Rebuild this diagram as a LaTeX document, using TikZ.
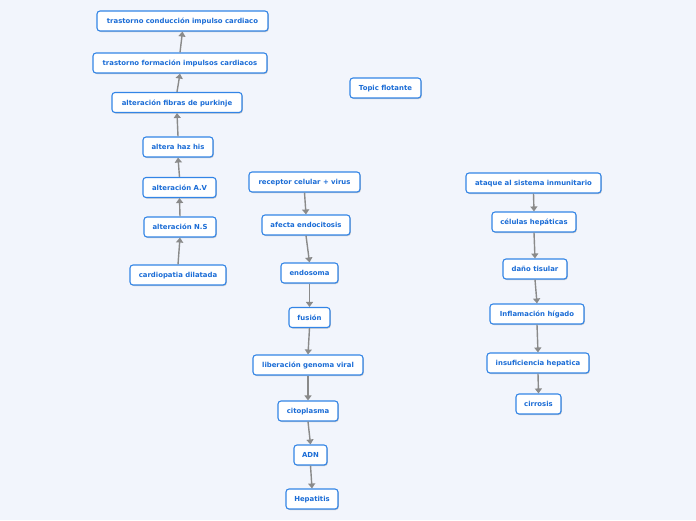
\documentclass[tikz,border=0pt]{standalone}
\usepackage{fontspec}
\setmainfont{DejaVu Sans}
\usetikzlibrary{arrows.meta,shadows}
\definecolor{bg}{HTML}{F2F5FC}
\definecolor{bord}{HTML}{3385E6}
\definecolor{txt}{HTML}{1A6CD6}
\definecolor{arr}{HTML}{8A8A8A}
\tikzset{
  topicbox/.style={draw=bord, line width=1.1pt, fill=white, rounded corners=3pt,
    minimum height=20pt, inner sep=2pt, text=txt, text height=5.6pt, text depth=0.4pt,
    font=\fontsize{6.9}{8}\selectfont\bfseries,
    drop shadow={shadow xshift=0.8pt, shadow yshift=-1pt, opacity=0.35, fill=black!60}},
  link/.style={draw=arr, line width=1.4pt, -{Triangle[width=7pt,length=5pt]}}
}
\begin{document}
\begin{tikzpicture}[x=1pt,y=-1pt]
\useasboundingbox (0,0) rectangle (696,520);
\fill[bg] (0,0) rectangle (696,520);
% left column
\node[topicbox, minimum width=171pt] (l1) at (182.5,21) {trastorno conducción impulso cardiaco};
\node[topicbox, minimum width=174pt] (l2) at (180,63) {trastorno formación impulsos cardiacos};
\node[topicbox, minimum width=130pt] (l3) at (177,102.5) {alteración fibras de purkinje};
\node[topicbox, minimum width=70pt] (l4) at (178,147) {altera haz his};
\node[topicbox, minimum width=73pt] (l5) at (179.5,187.5) {alteración A.V};
\node[topicbox, minimum width=72pt] (l6) at (180,227) {alteración N.S};
\node[topicbox, minimum width=96pt] (l7) at (178,275) {cardiopatia dilatada};
% middle column
\node[topicbox, minimum width=111pt] (m1) at (304.5,182) {receptor celular + virus};
\node[topicbox, minimum width=88pt] (m2) at (306,225) {afecta endocitosis};
\node[topicbox, minimum width=57pt] (m3) at (309.5,273) {endosoma};
\node[topicbox, minimum width=41pt] (m4) at (309.5,317.5) {fusión};
\node[topicbox, minimum width=110pt] (m5) at (308,365) {liberación genoma viral};
\node[topicbox, minimum width=60pt] (m6) at (308,411) {citoplasma};
\node[topicbox, minimum width=33pt] (m7) at (310.5,455) {ADN};
\node[topicbox, minimum width=52pt] (m8) at (312,499) {Hepatitis};
% floating
\node[topicbox, minimum width=71pt] (ft) at (385.5,88) {Topic flotante};
% right column
\node[topicbox, minimum width=135pt] (r1) at (533.5,183) {ataque al sistema inmunitario};
\node[topicbox, minimum width=84pt] (r2) at (534,222) {células hepáticas};
\node[topicbox, minimum width=64pt] (r3) at (535,269) {daño tisular};
\node[topicbox, minimum width=94pt] (r4) at (537,314) {Inflamación hígado};
\node[topicbox, minimum width=102pt] (r5) at (538,363) {insuficiencia hepatica};
\node[topicbox, minimum width=45pt] (r6) at (538.5,404) {cirrosis};
% links
\draw[link] (l7.north) -- (l6.south);
\draw[link] (l6.north) -- (l5.south);
\draw[link] (l5.north) -- (l4.south);
\draw[link] (l4.north) -- (l3.south);
\draw[link] (l3.north) -- (l2.south);
\draw[link] (l2.north) -- (l1.south);
\draw[link] (m1.south) -- (m2.north);
\draw[link] (m2.south) -- (m3.north);
\draw[link] (m3.south) -- (m4.north);
\draw[link] (m4.south) -- (m5.north);
\draw[link] (m5.south) -- (m6.north);
\draw[link] (m6.south) -- (m7.north);
\draw[link] (m7.south) -- (m8.north);
\draw[link] (r1.south) -- (r2.north);
\draw[link] (r2.south) -- (r3.north);
\draw[link] (r3.south) -- (r4.north);
\draw[link] (r4.south) -- (r5.north);
\draw[link] (r5.south) -- (r6.north);
\end{tikzpicture}
\end{document}
